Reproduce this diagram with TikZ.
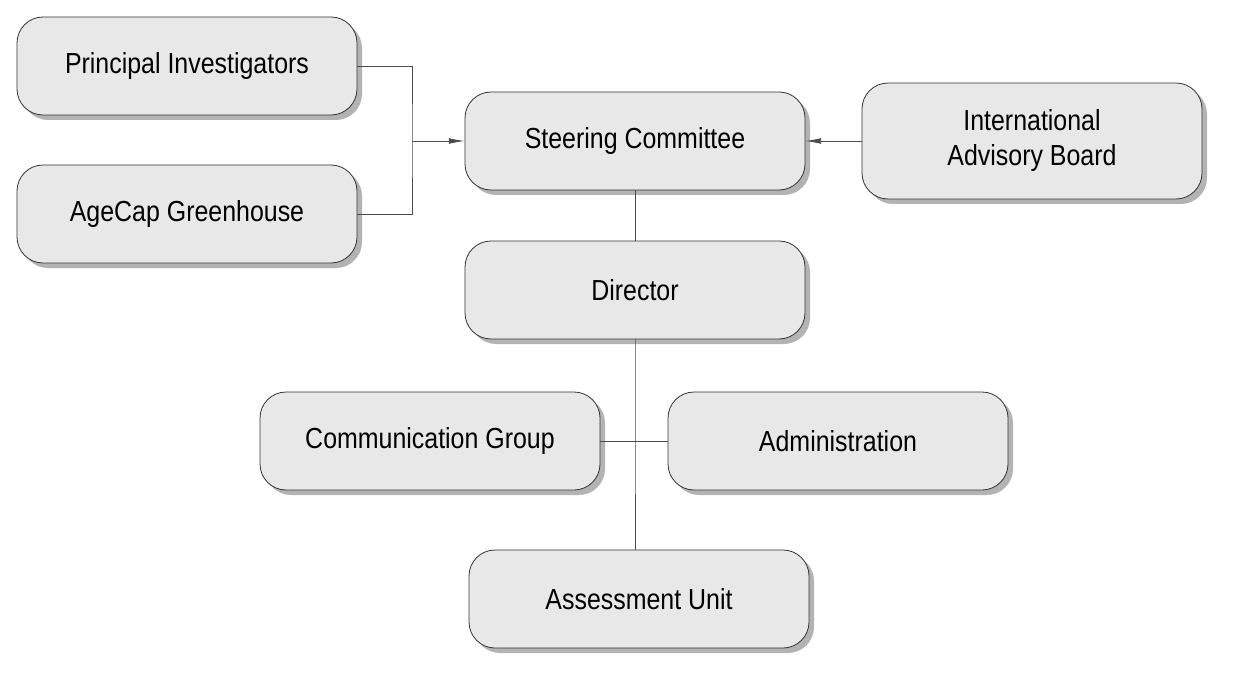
\documentclass[tikz,border=0pt]{standalone}
\usepackage{fontspec}
\setmainfont[FakeStretch=0.86]{Liberation Sans}
\usetikzlibrary{shadows,arrows.meta}
\tikzset{
  unit/.style={draw=black!80, line width=0.8pt, fill=black!9, rounded corners=26pt,
    minimum width=340pt, minimum height=98pt, align=center, font=\fontsize{29}{35}\selectfont,
    drop shadow={shadow xshift=5pt, shadow yshift=-5pt, fill=black!50, opacity=0.6}},
  link/.style={draw=black!70, line width=0.8pt},
  feed/.style={link, >={Latex[length=0.55cm,width=0.2cm]}, ->}
}
\begin{document}
\begin{tikzpicture}[x=1pt,y=-1pt]
\useasboundingbox (0,0) rectangle (1235,682);
% top row
\node[unit] (pi) at (187,66) {Principal Investigators};
\node[unit] (agecap) at (187,214) {AgeCap Greenhouse};
\node[unit] (steer) at (635,141) {Steering Committee};
\node[unit, minimum height=116pt] (iab) at (1032,141) {International\\Advisory Board};
% lower part
\node[unit] (dir) at (635,290) {Director};
\node[unit] (comm) at (430,441) {Communication Group};
\node[unit] (admin) at (838,441) {Administration};
\node[unit] (assess) at (639,599) {Assessment Unit};

\coordinate (join) at (412,141);
\coordinate (hub) at (635,441);
\draw[link] (pi.east) -| (join) |- (agecap.east);
\draw[feed] (join) -- (steer.west);
\draw[feed] (iab.west) -- (steer.east);
\draw[link] (steer.south) -- (dir.north);
\draw[link] (dir.south) -- (hub) -- (hub |- assess.north);
\draw[link] (comm.east) -- (admin.west);
\end{tikzpicture}
\end{document}
